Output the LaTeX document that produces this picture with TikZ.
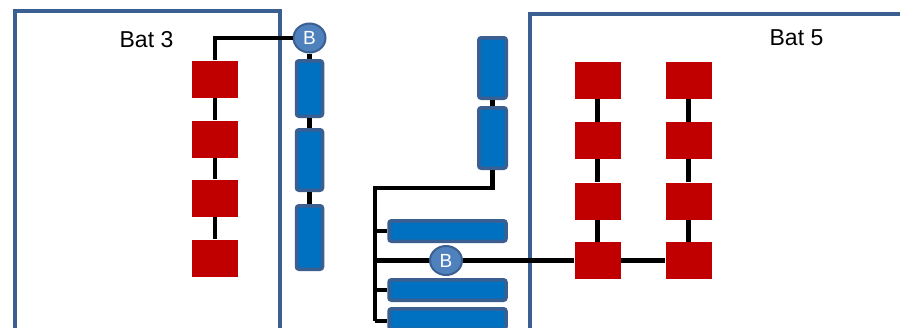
\documentclass[tikz,border=0pt]{standalone}
\usepackage{fontspec}
\setmainfont{Liberation Sans}
\usetikzlibrary{shapes.geometric}
\definecolor{cellred}{HTML}{C00000}
\definecolor{packblue}{HTML}{0070C0}
\definecolor{edgeblue}{HTML}{3B5F91}
\definecolor{breakblue}{HTML}{4F81BD}
\begin{document}
\begin{tikzpicture}[x=1pt,y=-1pt,
  redcell/.style={fill=cellred,inner sep=0pt,minimum width=46pt,minimum height=37pt},
  pack/.style={fill=packblue,draw=edgeblue,line width=3.5pt,rounded corners=2.5pt,inner sep=0pt},
  vpack/.style={pack,minimum width=26pt},
  hpack/.style={pack,minimum width=117pt,minimum height=20.5pt},
  breaker/.style={ellipse,fill=breakblue,draw=edgeblue,line width=2pt,inner sep=0pt,
    minimum width=32pt,minimum height=29pt,text=white,font=\fontsize{19}{19}\selectfont},
  building/.style={draw=edgeblue,line width=4pt},
  wire/.style={draw=black,line width=4.5pt},
  label/.style={font=\fontsize{23}{23}\selectfont,inner sep=0pt}]
\clip (0,0) rectangle (900,327);

% buildings
\draw[building] (15,10.5) rectangle (280,345);
\draw[building] (530,13.5) rectangle (915,345);
\node[label] (bat3) at (146.5,40) {Bat 3};
\node[label] (bat5) at (796.5,38) {Bat 5};

% cells inside Bat 3
\node[redcell] (l1) at (215,79) {};
\node[redcell] (l2) at (215,139) {};
\node[redcell] (l3) at (215,198) {};
\node[redcell] (l4) at (215,258) {};

% breaker and vertical packs beside Bat 3
\node[breaker] (b1) at (309.5,38) {B};
\node[vpack,minimum height=55.5pt] (v1) at (309.5,88.5) {};
\node[vpack,minimum height=60.5pt] (v2) at (309.5,160) {};
\node[vpack,minimum height=63.5pt] (v3) at (309.5,237.5) {};

% vertical packs in the middle
\node[vpack,minimum width=27.5pt,minimum height=60.5pt] (m1) at (492.5,68) {};
\node[vpack,minimum width=27.5pt,minimum height=60.5pt] (m2) at (492.5,138) {};

% horizontal packs
\node[hpack] (h1) at (447.5,231) {};
\node[hpack] (h2) at (447.5,290) {};
\node[hpack] (h3) at (447.5,319) {};
\node[breaker] (b2) at (446,260.5) {B};

% cells inside Bat 5
\node[redcell] (a1) at (597.5,80.5) {};
\node[redcell] (a2) at (597.5,140.5) {};
\node[redcell] (a3) at (597.5,201) {};
\node[redcell] (a4) at (597.5,260.5) {};
\node[redcell] (c1) at (688.5,80.5) {};
\node[redcell] (c2) at (688.5,140.5) {};
\node[redcell] (c3) at (688.5,201) {};
\node[redcell] (c4) at (688.5,260.5) {};

% junctions of the bus on the left of the horizontal packs
\coordinate (jtop) at (375,188);
\coordinate (jbot) at (375,321);

% wiring
\draw[wire] (l1.north) |- (b1.west);
\draw[wire] (l1) -- (l2);
\draw[wire] (l2) -- (l3);
\draw[wire] (l3) -- (l4);
\draw[wire] (b1) -- (v1);
\draw[wire] (v1) -- (v2);
\draw[wire] (v2) -- (v3);
\draw[wire] (m1) -- (m2);
\draw[wire] (m2.south) |- (jtop) -- (jbot);
\draw[wire] (jtop|-h1) -- (h1.west);
\draw[wire] (jtop|-h2) -- (h2.west);
\draw[wire] (jbot) -- (jbot-|h3.west);
\draw[wire] (jtop|-b2) -- (b2.west);
\draw[wire] (b2.east) -- (a4.west);
\draw[wire] (a4.east) -- (c4.west);
\draw[wire] (a1) -- (a2);
\draw[wire] (a2) -- (a3);
\draw[wire] (a3) -- (a4);
\draw[wire] (c1) -- (c2);
\draw[wire] (c2) -- (c3);
\draw[wire] (c3) -- (c4);
\end{tikzpicture}
\end{document}
